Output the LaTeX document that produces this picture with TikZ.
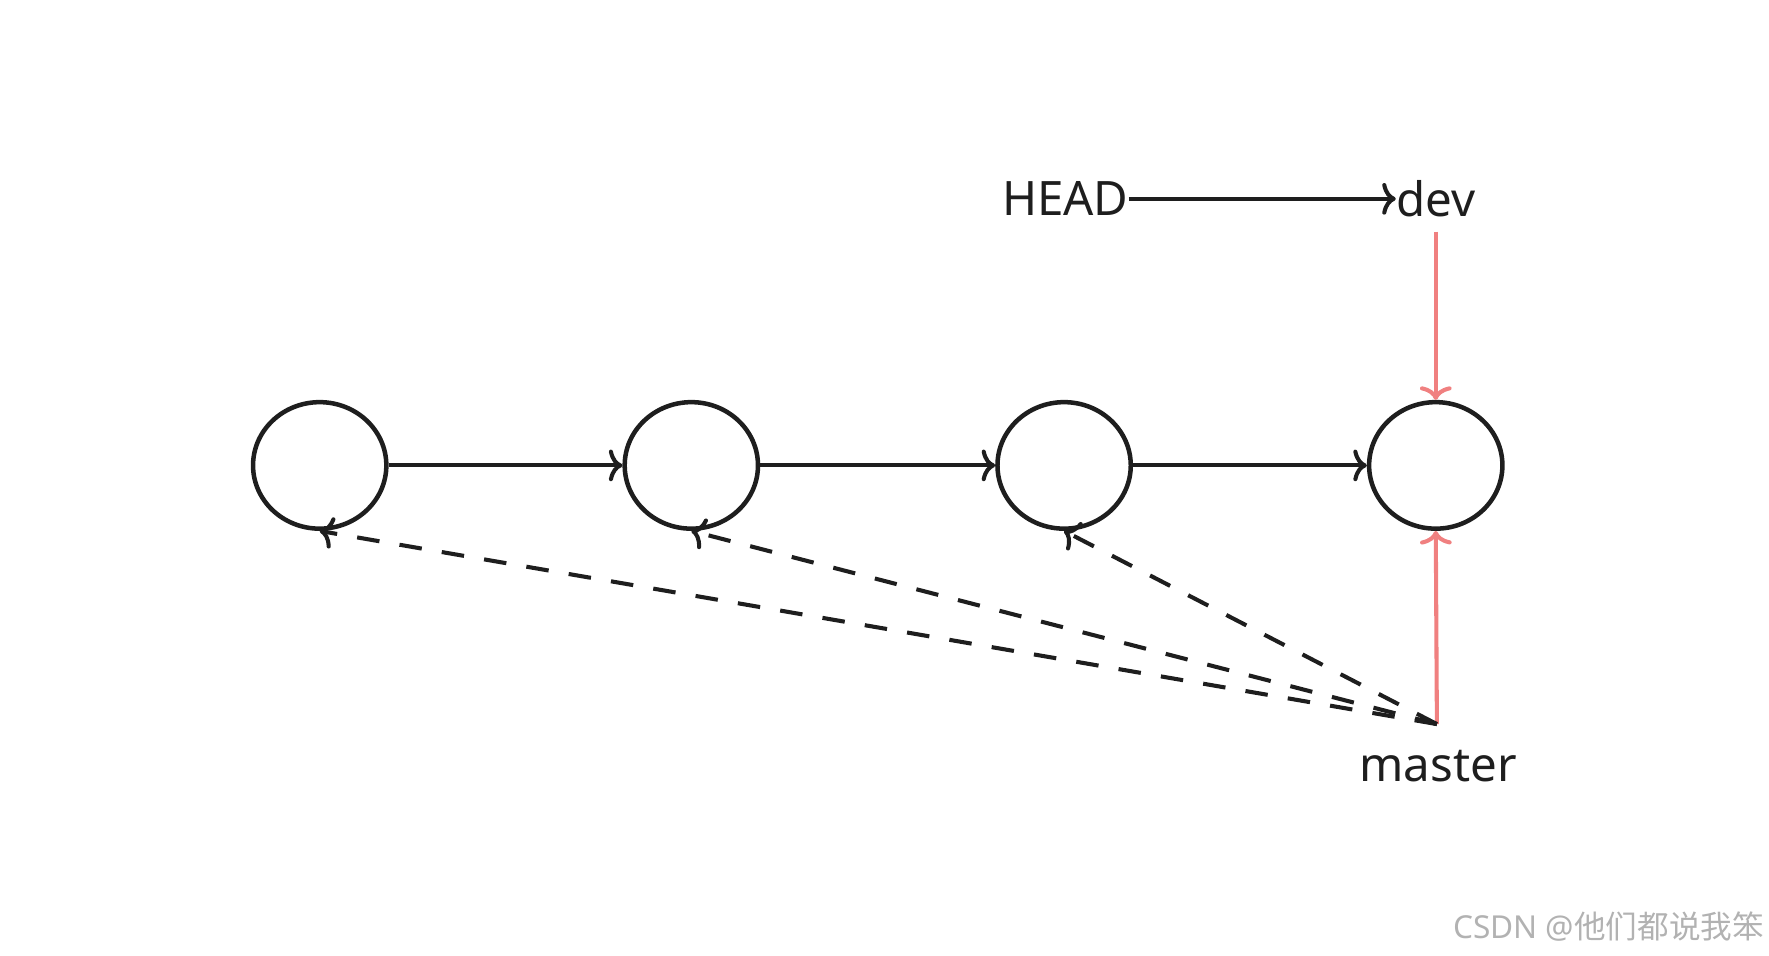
\documentclass[tikz,border=0pt]{standalone}
\usepackage{fontspec}
\setmainfont{Noto Sans}
\newfontfamily\cjk{Noto Sans CJK SC}
\usetikzlibrary{arrows.meta,shapes.geometric}
\definecolor{ink}{HTML}{1E1E1E}
\definecolor{redl}{HTML}{F08080}
\begin{document}
\begin{tikzpicture}[x=0.5pt,y=-0.5pt,
  commit/.style={draw=ink,line width=2pt,ellipse,minimum width=59pt,minimum height=56pt,inner sep=0},
  arr/.style={draw=ink,line width=1.8pt,-{To[length=6pt,width=14pt,line width=1.8pt]}},
  rarr/.style={draw=redl,line width=1.8pt,-{To[length=6pt,width=14pt,line width=1.8pt]}},
  darr/.style={draw=ink,line width=1.8pt,dash pattern=on 10pt off 9pt,-{To[length=6pt,width=14pt,line width=1.8pt]}},
  lbl/.style={text=ink,font=\fontsize{21}{24}\selectfont,inner sep=0}]
\useasboundingbox (0,0) rectangle (1566,846);
\node[commit] (c1) at (283,412) {};
\node[commit] (c2) at (612,412) {};
\node[commit] (c3) at (942,412) {};
\node[commit] (c4) at (1271,412) {};
\node[lbl] (head) at (943,176) {HEAD};
\node[lbl] (dev) at (1271,176) {dev};
\node[lbl] (master) at (1273,678) {master};
\coordinate (m) at (1272,641);
\coordinate (dvb) at (1271,205);
\draw[arr] (c1) -- (c2);
\draw[arr] (c2) -- (c3);
\draw[arr] (c3) -- (c4);
\draw[arr] (head.east) -- (dev.west);
\draw[rarr] (dvb) -- (c4.north);
\draw[rarr] (m) -- (c4.south);
\draw[darr] (m) -- (c3.south);
\draw[darr] (m) -- (c2.south);
\draw[darr] (m) -- (c1.south);
\node[text=gray!60,font=\fontsize{14}{16}\selectfont,anchor=east,inner sep=0] (wm) at (1562,820) {CSDN @{\cjk 他们都说我笨}};
\end{tikzpicture}
\end{document}
